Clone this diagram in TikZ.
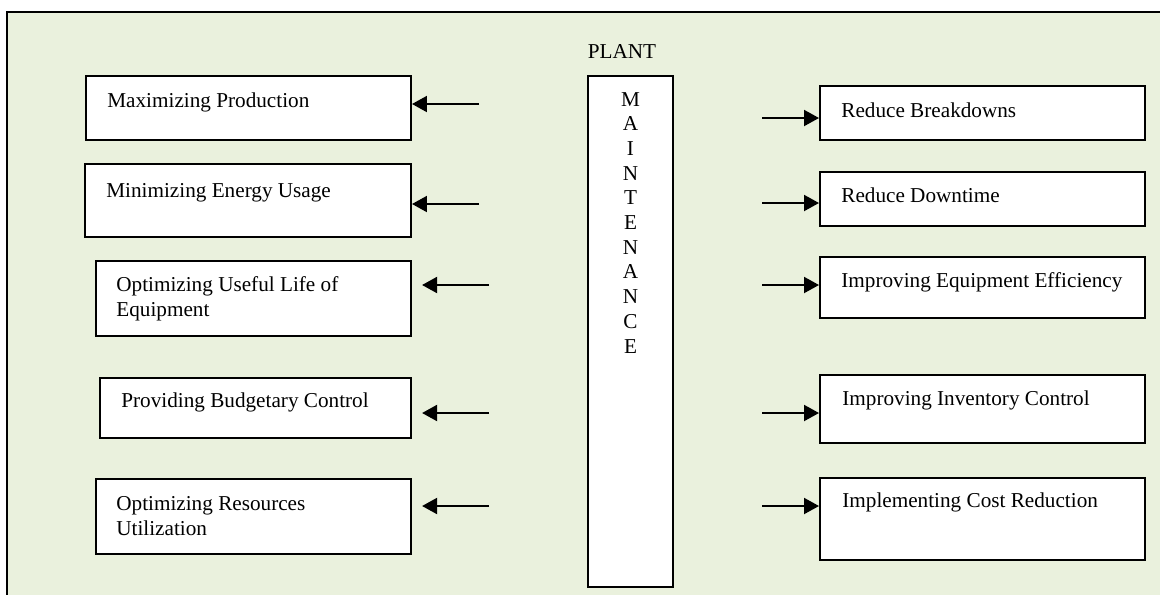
\documentclass[tikz,border=0pt]{standalone}
\usepackage{fontspec}
\setmainfont{Liberation Serif}
\usetikzlibrary{arrows.meta,fit}

\definecolor{panelgreen}{HTML}{EAF1DD}

\tikzset{
  box/.style={draw, line width=1.1pt, fill=white, inner sep=0pt},
  txt/.style={anchor=base west, inner sep=0pt, font=\fontsize{12}{14.2}\selectfont},
  arr/.style={line width=1.3pt, -{Triangle[length=8.5pt,width=9pt]}},
  gap/.style={shorten >=5.7pt}
}

\begin{document}
\begin{tikzpicture}[x=0.566pt,y=0.566pt,yscale=-1,xscale=1]
        \useasboundingbox (0,0) rectangle (1160,595);

        %Panel
        \fill[panelgreen] (7,12) rectangle (1160,595);
        \draw[line width=1.4pt] (1160,12) -- (7,12) -- (7,595);

        %Centre column
        \node[txt, anchor=base] (plant) at (622,58) {PLANT};
        \node[box, fit={(588,76) (673,587)}] (maint) {};
        \foreach \l [count=\i from 0] in {M,A,I,N,T,E,N,A,N,C,E}
            \node[txt, anchor=base] (m\i) at (630.5,106+24.7*\i) {\l};

        %Left boxes
        \node[box, fit={(86,76) (411,140)}] (prod) {};
        \node[txt] (prodtxt) at (107,107) {Maximizing Production};
        \node[box, fit={(85,164) (411,237)}] (energy) {};
        \node[txt] (energytxt) at (106,197) {Minimizing Energy Usage};
        \node[box, fit={(96,261) (411,336)}] (life) {};
        \node[txt, anchor=north west, align=left] (lifetxt) at (116,276) {Optimizing Useful Life of\\Equipment};
        \node[box, fit={(100,378) (411,438)}] (budget) {};
        \node[txt] (budgettxt) at (121,407) {Providing Budgetary Control};
        \node[box, fit={(96,479) (411,554)}] (resource) {};
        \node[txt, anchor=north west, align=left] (resourcetxt) at (116,496) {Optimizing Resources\\Utilization};

        %Right boxes
        \node[box, fit={(820,86) (1145,140)}] (breakdown) {};
        \node[txt] (breakdowntxt) at (841,117) {Reduce Breakdowns};
        \node[box, fit={(820,172) (1145,226)}] (downtime) {};
        \node[txt] (downtimetxt) at (841,202) {Reduce Downtime};
        \node[box, fit={(820,257) (1145,318)}] (effic) {};
        \node[txt] (effictxt) at (841,287) {Improving Equipment Efficiency};
        \node[box, fit={(820,375) (1145,443)}] (invent) {};
        \node[txt] (inventtxt) at (842,405) {Improving Inventory Control};
        \node[box, fit={(820,478) (1145,560)}] (cost) {};
        \node[txt] (costtxt) at (842,507) {Implementing Cost Reduction};

        %Arrows to the left
        \coordinate (l1) at (479,104);
        \coordinate (l2) at (479,204);
        \coordinate (l3) at (489,285);
        \coordinate (l4) at (489,413);
        \coordinate (l5) at (489,506);
        \draw[arr] (l1) -- (l1 -| prod.east);
        \draw[arr] (l2) -- (l2 -| energy.east);
        \draw[arr, gap] (l3) -- (l3 -| life.east);
        \draw[arr, gap] (l4) -- (l4 -| budget.east);
        \draw[arr, gap] (l5) -- (l5 -| resource.east);

        %Arrows to the right
        \coordinate (r1) at (762,118);
        \coordinate (r2) at (762,203);
        \coordinate (r3) at (762,285);
        \coordinate (r4) at (762,413);
        \coordinate (r5) at (762,506);
        \draw[arr] (r1) -- (r1 -| breakdown.west);
        \draw[arr] (r2) -- (r2 -| downtime.west);
        \draw[arr] (r3) -- (r3 -| effic.west);
        \draw[arr] (r4) -- (r4 -| invent.west);
        \draw[arr] (r5) -- (r5 -| cost.west);
    \end{tikzpicture}
\end{document}
